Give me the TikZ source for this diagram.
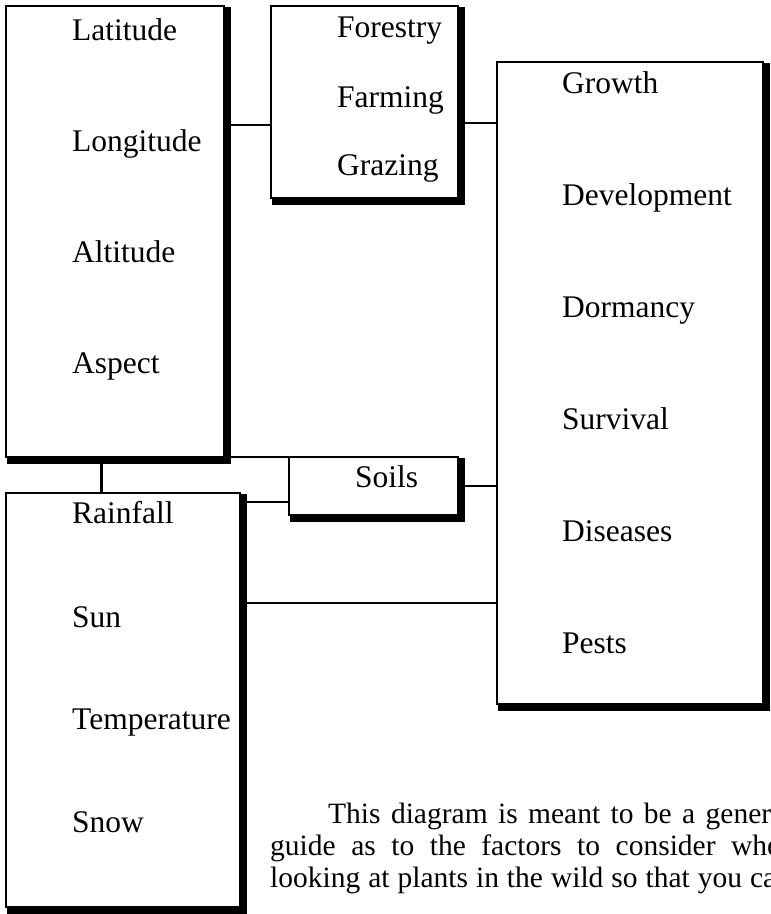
\documentclass[tikz,border=0pt]{standalone}
\usepackage{fontspec}
\setmainfont{Liberation Serif}
\newcommand\boxshade[1]{\draw[shadowline] ([shift={(4pt,-1pt)}]#1.north east) -- ([shift={(4pt,-4pt)}]#1.south east) -- ([shift={(1pt,-4pt)}]#1.south west);}
\begin{document}
\begin{tikzpicture}[x=1pt,y=-1pt,
  box/.style={draw=black,line width=2.2pt,rectangle,inner sep=0pt,outer sep=0pt,anchor=north west},
  lbl/.style={inner sep=0pt,anchor=base west,font=\fontsize{31.5}{38}\selectfont},
  bodytext/.style={inner sep=0pt,anchor=base west,font=\fontsize{29.5}{32}\selectfont},
  shadowline/.style={line width=6pt},
  conn/.style={line width=2.4pt}]
\useasboundingbox (0,0) rectangle (771,914);
% boxes
\node[box,minimum width=218pt,minimum height=451pt] (A) at (6,6) {};
\node[box,minimum width=187pt,minimum height=192pt] (B) at (271,6) {};
\node[box,minimum width=266pt,minimum height=642pt] (C) at (497,62) {};
\node[box,minimum width=234pt,minimum height=414pt] (D) at (6,493) {};
\node[box,minimum width=169pt,minimum height=58pt] (S) at (289,457) {};
\boxshade{A}\boxshade{B}\boxshade{C}\boxshade{D}\boxshade{S}
% connectors
\coordinate (yab) at (0,125);
\coordinate (ybc) at (0,123);
\coordinate (xad) at (101.5,0);
\coordinate (yds) at (0,502);
\coordinate (ysc) at (0,486);
\coordinate (ydc) at (0,603);
\draw[conn] (A.east|-yab) -- (B.west|-yab);
\draw[conn] (B.east|-ybc) -- (C.west|-ybc);
\draw[conn] (A.south-|xad) -- (D.north-|xad);
\draw[conn] (A.east|-S.north west) -- (S.north west);
\draw[conn] (D.east|-yds) -- (S.west|-yds);
\draw[conn] (S.east|-ysc) -- (C.west|-ysc);
\draw[conn] (D.east|-ydc) -- (C.west|-ydc);
% labels
\node[lbl] (lat) at (72,40) {Latitude};
\node[lbl] (lon) at (72,151) {Longitude};
\node[lbl] (alt) at (72,262) {Altitude};
\node[lbl] (asp) at (72,373) {Aspect};
\node[lbl] (for) at (337,37) {Forestry};
\node[lbl] (far) at (337,107) {Farming};
\node[lbl] (gra) at (337,175) {Grazing};
\node[lbl] (gro) at (562,93) {Growth};
\node[lbl] (dev) at (562,205) {Development};
\node[lbl] (dor) at (562,317) {Dormancy};
\node[lbl] (sur) at (562,429) {Survival};
\node[lbl] (dis) at (562,541) {Diseases};
\node[lbl] (pes) at (562,653) {Pests};
\node[lbl] (rai) at (72,523) {Rainfall};
\node[lbl] (sun) at (72,627) {Sun};
\node[lbl] (tem) at (72,729) {Temperature};
\node[lbl] (sno) at (72,832) {Snow};
\node[lbl] (soi) at (355,487) {Soils};
% paragraph
\begin{scope}
\clip (0,0) rectangle (771,914);
\node[bodytext] (p1) at (328,823) {\makebox[443pt][s]{This diagram is meant to be a gener}};
\node[bodytext] (p2) at (270,855) {\makebox[497pt][s]{guide as to the factors to consider wh}e};
\node[bodytext] (p3) at (270,887) {\makebox[493pt][s]{looking at plants in the wild so that you c}a};
\end{scope}
\end{tikzpicture}
\end{document}
